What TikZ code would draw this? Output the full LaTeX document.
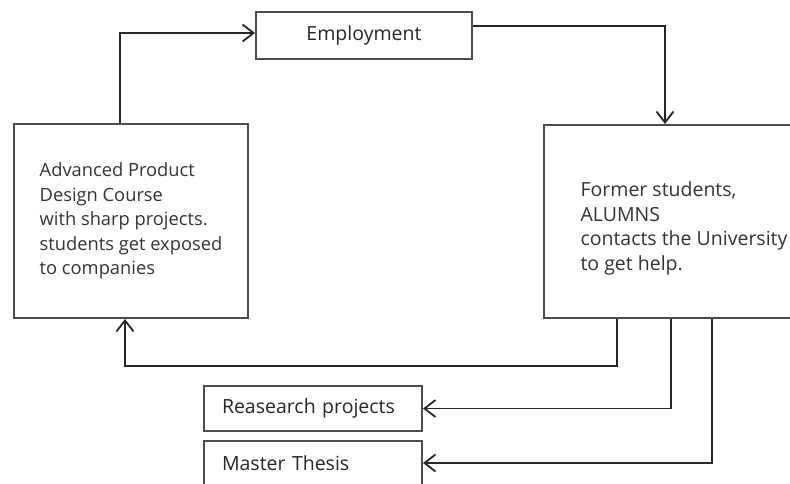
\documentclass[tikz,border=0pt]{standalone}
\usepackage{fontspec}
\setmainfont{Open Sans}
\usetikzlibrary{arrows.meta}
\begin{document}
\begin{tikzpicture}[x=1pt,y=-1pt,
  box/.style={draw=black!70,line width=2pt,rectangle,inner sep=0pt,anchor=north west,
    font=\fontsize{18.3}{24.5}\selectfont,text=black!80},
  bigbox/.style={box,font=\fontsize{19.5}{24.5}\selectfont},
  smallbox/.style={box,font=\fontsize{19.5}{22}\selectfont,text=black!85},
  arr/.style={draw=black!85,line width=1.8pt,-{Straight Barb[length=11pt,width=17pt,line width=1.8pt]}}]
\useasboundingbox (0,0) rectangle (790,483);
\node[box,minimum width=234pt,minimum height=194pt,align=left] (adv) at (13,123)
  {Advanced Product\\Design Course\\with sharp projects.\\students get exposed\\to companies};
\node[smallbox,minimum width=216pt,minimum height=47pt] (emp) at (255,11) {Employment};
\node[bigbox,minimum width=280pt,minimum height=193pt,align=left] (alum) at (543,124)
  {\rule{0pt}{28.5pt}Former students,\\ALUMNS\\contacts the University\\to get help.};
\node[smallbox,minimum width=218pt,minimum height=45pt,text width=182pt,align=left] (res) at (203,385)
  {Reasearch projects};
\node[smallbox,minimum width=218pt,minimum height=44pt,text width=182pt,align=left] (mas) at (203,440)
  {Master Thesis};
\coordinate (c1) at (617,366);
\draw[arr] ([xshift=107pt]adv.north west) |- ([yshift=2.5pt]emp.west);
\draw[arr] ([yshift=9.5pt]emp.east) -| ([xshift=122pt]alum.north west);
\draw[arr] ([xshift=74pt]alum.south west) |- (c1) -| ([xshift=112pt]adv.south west);
\draw[arr] ([xshift=128pt]alum.south west) |- (res.east);
\draw[arr] ([xshift=169pt]alum.south west) |- (mas.east);
\end{tikzpicture}
\end{document}
